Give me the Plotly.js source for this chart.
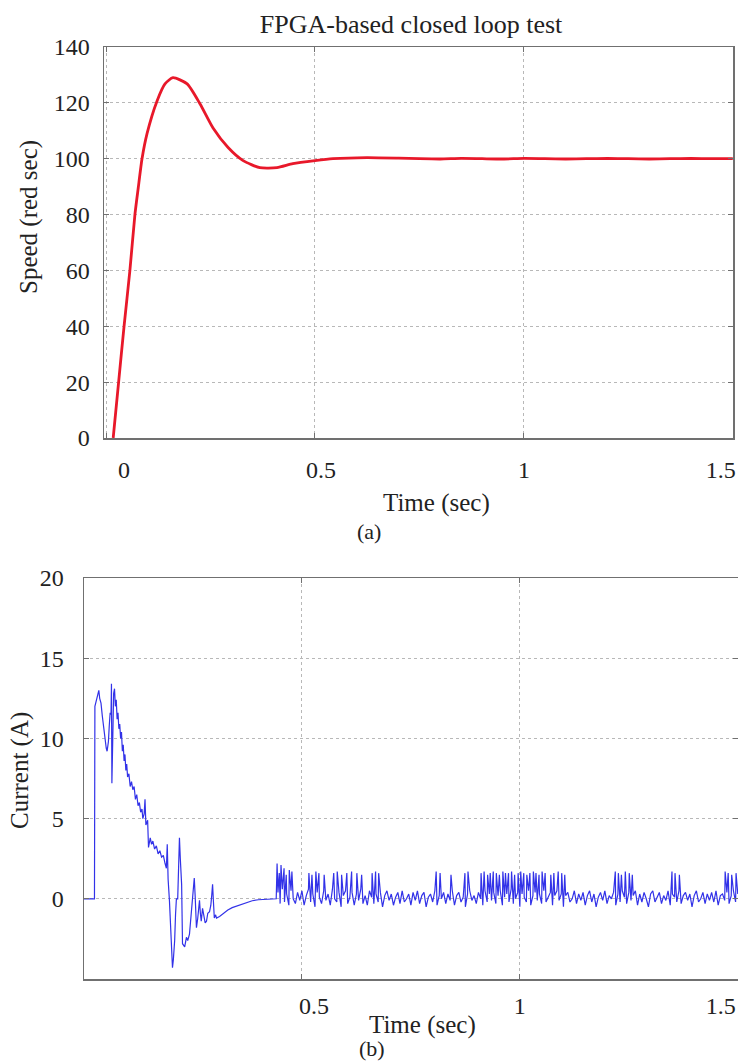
<!DOCTYPE html>
<html>
<head>
<meta charset="utf-8">
<script src="https://cdn.plot.ly/plotly-3.0.1.min.js"></script>
<style>html,body{margin:0;padding:0;background:#fff;}#chart{width:738px;height:1064px;}</style>
</head>
<body>
<div id="chart"></div>
<script>
// ---------- (a) speed ----------
const speedT = [0.017,0.030,0.043,0.057,0.069,0.077,0.086,0.098,0.122,0.141,0.160,0.194,0.225,0.256,0.292,0.328,0.368,0.409,0.447,0.500,0.543,0.624,0.700,0.750,0.800,0.850,0.900,0.950,1.000,1.050,1.100,1.150,1.200,1.250,1.300,1.350,1.400,1.450,1.500];
const speedV = [0,20,40,60,80,89.6,100,109,120.7,126.8,129,126.8,119.6,111,104,99.3,96.8,96.8,98.2,99.3,100,100.4,100.2,100.0,99.9,100.1,100.0,99.9,100.1,100.0,99.9,100.0,100.1,100.0,99.9,100.0,100.1,100.0,100.0];
const NB = '\u00a0';
const speedTicks = [0,0.5,1,1.5];
const speedTickText = [NB.repeat(6) + '0', NB.repeat(2) + '0.5', '1', ''];
const speedEndTick = [1.5];
const speedEndText = ['1.5'];
const speedYTicks = [0,20,40,60,80,100,120,140];

// ---------- (b) current ----------
const curTransT = [0,0.024,0.025,0.028,0.031,0.034,0.036,0.039,0.042,0.045,0.048,0.051,0.053,0.056,0.058,0.060,0.062,0.063,0.064,0.066,0.068,0.070,0.072,0.074,0.076,0.078,0.080,0.082,0.084,0.086,0.088,0.090,0.092,0.094,0.096,0.098,0.100,0.103,0.106,0.109,0.112,0.115,0.118,0.121,0.124,0.127,0.130,0.133,0.135,0.138,0.140,0.142,0.146,0.148,0.152,0.155,0.158,0.162,0.166,0.170,0.174,0.178,0.182,0.186,0.189,0.191,0.193,0.196,0.199,0.201,0.203,0.205,0.208,0.210,0.212,0.215,0.217,0.219,0.221,0.224,0.226,0.231,0.235,0.238,0.242,0.246,0.249,0.251,0.253,0.255,0.258,0.261,0.265,0.267,0.269,0.272,0.275,0.278,0.281,0.284,0.288,0.291,0.293,0.295,0.297,0.299,0.302,0.304,0.311,0.320,0.330,0.340,0.355,0.370,0.386,0.400,0.420,0.441];
const curTransI = [0,0,12.0,12.3,12.6,13.0,12.5,12.2,11.4,10.6,9.8,9.4,9.2,9.8,10.8,11.6,11.5,13.4,7.2,11.8,12.8,13.1,12.0,12.4,11.2,11.6,10.6,10.9,10.0,10.4,9.2,9.6,8.6,9.0,8.0,8.4,7.6,7.8,7.0,7.3,6.8,7.0,6.2,6.5,5.8,6.0,5.4,5.6,5.0,5.3,6.2,4.6,4.9,3.2,3.8,3.4,3.6,3.1,3.3,2.8,3.0,2.6,2.7,2.2,1.9,3.4,1.2,-0.1,-2.0,-3.4,-4.3,-3.8,-2.6,-1.0,0.0,0.0,2.0,3.8,2.5,0.9,-2.8,-3.0,-2.4,-2.6,-2.2,-1.0,-0.1,0.5,1.3,0.2,-1.8,-1.2,-0.1,-0.9,-1.4,-0.6,-1.1,-1.5,-1.4,-0.9,-0.8,-0.4,0.2,0.9,-0.2,-1.2,-1.0,-1.2,-1.1,-0.9,-0.7,-0.55,-0.4,-0.25,-0.12,-0.06,-0.02,0.0];

// steady-state ripple, sampled every 5 ms from t = 0.445 s
const noiseStart = 0.445;
const noiseStep = 0.005;
const noiseVals = [
 0.4,-0.3,0.6,-0.2,0.3,-0.4,0.5,0.0,-0.3,0.4,-0.1,0.5,-0.4,0.2,0.6,-0.2,0.3,-0.5,0.4,0.1,
 -0.3,0.5,-0.1,0.3,-0.4,0.6,0.0,-0.2,0.4,-0.5,0.2,0.5,-0.3,0.1,0.4,-0.4,0.3,-0.1,0.6,-0.3,
 0.2,-0.4,0.5,0.1,-0.3,0.3,-0.2,0.4,-0.5,0.2,0.5,-0.1,0.3,-0.4,0.1,0.4,-0.3,0.5,-0.2,0.0,
 0.3,-0.4,0.4,-0.1,0.5,-0.3,0.2,0.4,-0.5,0.1,0.3,-0.2,0.5,-0.4,0.2,0.0,0.4,-0.3,0.3,-0.1,
 0.5,-0.4,0.2,0.4,-0.2,0.1,-0.5,0.3,0.5,-0.1,0.2,-0.3,0.4,0.0,-0.4,0.5,-0.2,0.3,-0.1,0.4,
 -0.3,0.2,0.5,-0.4,0.1,0.3,-0.2,0.6,-0.3,0.0,0.4,-0.5,0.3,0.1,-0.2,0.5,-0.4,0.2,0.4,-0.1,
 0.3,-0.3,0.5,-0.2,0.1,0.4,-0.4,0.2,0.5,-0.1,0.3,-0.5,0.2,0.4,-0.2,0.0,0.5,-0.3,0.3,-0.1,
 0.4,-0.4,0.2,0.5,-0.2,0.3,-0.5,0.1,0.4,-0.1,0.5,-0.3,0.2,0.0,0.4,-0.4,0.3,-0.2,0.5,0.1,
 -0.3,0.4,-0.1,0.2,0.5,-0.4,0.3,-0.2,0.4,0.0,-0.5,0.3,0.5,-0.2,0.1,0.4,-0.3,0.2,-0.1,0.5,
 -0.4,0.3,0.1,-0.2,0.5,-0.3,0.2,0.4,-0.1,0.3,-0.5,0.2,0.5,-0.2,0.0,0.4,-0.3,0.3,-0.1,0.4,
 -0.2,0.5,-0.4,0.2,0.3,-0.1,0.4,-0.3,0.2,0.5,-0.2,0.3
];
// switching spikes
const spikeT = [
 0.443,0.448,0.452,0.459,0.464,0.471,0.477,
 0.516,0.523,0.532,0.539,0.551,0.573,0.581,0.591,0.603,0.614,0.626,0.637,0.661,0.669,0.676,
 0.808,0.817,0.842,0.874,0.881,
 0.911,0.918,0.926,0.932,0.939,0.946,0.953,0.961,0.967,0.974,0.981,0.988,0.996,1.002,1.009,1.016,1.023,1.031,1.037,1.044,1.051,1.058,
 1.071,1.078,1.088,1.096,1.103,
 1.219,1.226,1.233,1.242,1.251,1.258,
 1.349,1.356,1.366,
 1.471,1.478,1.486,1.496
];
const spikeI = [
 2.2,1.6,2.1,1.9,1.5,1.8,1.7,
 1.6,1.5,1.7,1.6,1.5,1.6,1.7,1.5,1.6,1.7,1.6,1.5,1.6,1.7,1.6,
 1.7,1.6,1.5,1.6,1.7,
 1.6,1.7,1.5,1.6,1.7,1.6,1.5,1.7,1.6,1.6,1.7,1.5,1.6,1.7,1.6,1.5,1.6,1.7,1.6,1.5,1.7,1.6,
 1.5,1.6,1.7,1.6,1.5,
 1.7,1.6,1.5,1.7,1.6,1.5,
 1.7,1.6,1.5,
 1.7,1.6,1.5,1.6
];
const curTicks = [0.5,1,1.5];
const curTickText = [NB.repeat(4) + '0.5', '1', ''];
const curEndTick = [1.5];
const curEndText = ['1.5'];
const curYTicks = [0,5,10,15,20];

// ---------- build current trace ----------
const pts = [];
for (let k = 0; k < noiseVals.length; k++) pts.push([noiseStart + k * noiseStep, noiseVals[k]]);
for (let k = 0; k < spikeT.length; k++) pts.push([spikeT[k], spikeI[k]]);
pts.sort((a, b) => a[0] - b[0]);
const curT = curTransT.slice();
const curI = curTransI.slice();
pts.forEach(p => { curT.push(p[0]); curI.push(p[1]); });

const FONT = 'Liberation Serif, Times New Roman, serif';
const TICKFONT = {family: FONT, size: 24, color: '#222'};
const axBase = {
  showgrid: true, gridcolor: '#b8b8b8', griddash: 'dot', gridwidth: 1,
  showline: true, linecolor: '#707070', linewidth: 1.5, mirror: 'ticks',
  ticks: 'inside', ticklen: 5, tickcolor: '#707070',
  zeroline: false, tickfont: TICKFONT
};
const endAx = {
  showgrid: false, showline: false, zeroline: false, ticks: '',
  ticklabelposition: 'outside left', ticklabelshift: 3, tickfont: TICKFONT
};

const traces = [
  {x: speedT, y: speedV, xaxis: 'x', yaxis: 'y', type: 'scatter', mode: 'lines',
   line: {color: '#e8182a', width: 2.8, shape: 'spline', smoothing: 0.6}, name: 'Speed'},
  {x: curT, y: curI, xaxis: 'x2', yaxis: 'y2', type: 'scatter', mode: 'lines',
   line: {color: 'rgb(50,50,232)', width: 1.2}, name: 'Current'},
  {x: [], y: [], xaxis: 'x3', yaxis: 'y', type: 'scatter', mode: 'lines', hoverinfo: 'skip'},
  {x: [], y: [], xaxis: 'x4', yaxis: 'y2', type: 'scatter', mode: 'lines', hoverinfo: 'skip'}
];

const topDom = [104/738, 733/738], topRange = [-0.005, 1.5005];
const botDom = [84/738, 1], botRange = [0, 1.5005];

const layout = {
  width: 738, height: 1064,
  margin: {l: 0, r: 0, t: 0, b: 0},
  paper_bgcolor: '#fff', plot_bgcolor: '#fff',
  showlegend: false,
  title: {text: 'FPGA-based closed loop test', x: 0.557, xanchor: 'center', y: 0.978, yanchor: 'middle',
          font: {family: FONT, size: 26, color: '#222'}},
  xaxis: Object.assign({}, axBase, {domain: topDom, range: topRange, anchor: 'y',
          tickvals: speedTicks, ticktext: speedTickText, ticklabelstandoff: 10}),
  xaxis3: Object.assign({}, endAx, {domain: topDom, range: topRange, anchor: 'y', overlaying: 'x',
          tickvals: speedEndTick, ticktext: speedEndText, ticklabelstandoff: 15}),
  yaxis: Object.assign({}, axBase, {domain: [1 - 438/1064, 1 - 47/1064], range: [0, 140], anchor: 'x',
          tickvals: speedYTicks, ticklabelstandoff: 8}),
  xaxis2: Object.assign({}, axBase, {domain: botDom, range: botRange, anchor: 'y2',
          tickvals: curTicks, ticktext: curTickText, ticklabelstandoff: 5}),
  xaxis4: Object.assign({}, endAx, {domain: botDom, range: botRange, anchor: 'y2', overlaying: 'x2',
          tickvals: curEndTick, ticktext: curEndText, ticklabelstandoff: 10, ticklabelshift: -2}),
  yaxis2: Object.assign({}, axBase, {domain: [1 - 979/1064, 1 - 578/1064], range: [-5, 20], anchor: 'x2',
          tickvals: curYTicks, ticklabelstandoff: 14}),
  annotations: [
    {text: 'Speed (red sec)', xref: 'paper', yref: 'paper', x: 29/738, y: 1 - 217/1064, textangle: -90,
     showarrow: false, xanchor: 'center', yanchor: 'middle', font: {family: FONT, size: 25, color: '#222'}},
    {text: 'Time (sec)', xref: 'paper', yref: 'paper', x: 437/738, y: 1 - 503/1064,
     showarrow: false, xanchor: 'center', yanchor: 'middle', font: {family: FONT, size: 25, color: '#222'}},
    {text: '(a)', xref: 'paper', yref: 'paper', x: 369/738, y: 1 - 531/1064,
     showarrow: false, xanchor: 'center', yanchor: 'middle', font: {family: FONT, size: 22, color: '#222'}},
    {text: 'Current (A)', xref: 'paper', yref: 'paper', x: 20/738, y: 1 - 771/1064, textangle: -90,
     showarrow: false, xanchor: 'center', yanchor: 'middle', font: {family: FONT, size: 25, color: '#222'}},
    {text: 'Time (sec)', xref: 'paper', yref: 'paper', x: 423/738, y: 1 - 1025/1064,
     showarrow: false, xanchor: 'center', yanchor: 'middle', font: {family: FONT, size: 25, color: '#222'}},
    {text: '(b)', xref: 'paper', yref: 'paper', x: 372/738, y: 1 - 1048/1064,
     showarrow: false, xanchor: 'center', yanchor: 'middle', font: {family: FONT, size: 22, color: '#222'}}
  ]
};

Plotly.newPlot('chart', traces, layout, {staticPlot: true, displayModeBar: false});
</script>
</body>
</html>
